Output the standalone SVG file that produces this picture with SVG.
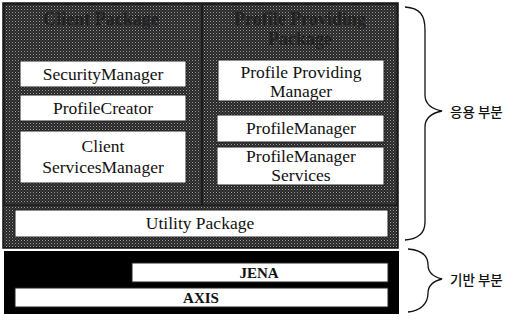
<svg xmlns="http://www.w3.org/2000/svg" width="518" height="320" viewBox="0 0 518 320">
<defs>
<pattern id="ht" width="3" height="3" patternUnits="userSpaceOnUse">
<rect width="3" height="3" fill="#262626"/>
<rect width="1" height="1" fill="#a0a0a0"/>
<rect x="1.5" y="1.5" width="1" height="1" fill="#707070"/>
</pattern>
<style>
.box{fill:#fff;stroke:#222;stroke-width:1}
.t{font-family:"Liberation Serif","DejaVu Serif",serif;font-size:17.5px;fill:#111;text-anchor:middle}
.b{font-family:"Liberation Serif","DejaVu Serif",serif;font-size:15px;font-weight:bold;fill:#111;text-anchor:middle}
.h{font-family:"Liberation Serif","DejaVu Serif",serif;font-size:18px;font-weight:bold;fill:#222;text-anchor:middle}
.k{font-family:"Noto Sans CJK KR",sans-serif;font-size:13.5px;font-weight:500;fill:#111}
.br{fill:none;stroke:#111;stroke-width:1.3}
</style>
</defs>
<g id="application-layer">
<rect x="3" y="3" width="395" height="245" fill="url(#ht)" stroke="#111" stroke-width="1.5"/>
</g>
<g id="client-package">
<rect x="4" y="4" width="198" height="201" fill="none" stroke="#1a1a1a" stroke-width="1.5"/>
<text class="h" x="101" y="25">Client Package</text>
</g>
<g id="profile-package">
<rect x="202" y="4" width="195" height="201" fill="none" stroke="#1a1a1a" stroke-width="1.5"/>
<text class="h" x="300" y="25">Profile Providing</text>
<text class="h" x="300" y="45">Package</text>
</g>
<g id="security-manager">
<rect class="box" x="20" y="61" width="166" height="26"/>
<text class="t" x="103" y="80">SecurityManager</text>
</g>
<g id="profile-creator">
<rect class="box" x="20" y="95" width="166" height="26"/>
<text class="t" x="103" y="114">ProfileCreator</text>
</g>
<g id="client-services-manager">
<rect class="box" x="20" y="131" width="166" height="52"/>
<text class="t" x="103" y="152">Client</text>
<text class="t" x="103" y="173">ServicesManager</text>
</g>
<g id="profile-providing-manager">
<rect class="box" x="218" y="60" width="166" height="41"/>
<text class="t" x="301" y="78">Profile Providing</text>
<text class="t" x="301" y="97">Manager</text>
</g>
<g id="profile-manager">
<rect class="box" x="217" y="115" width="167" height="27"/>
<text class="t" x="301" y="134">ProfileManager</text>
</g>
<g id="profile-manager-services">
<rect class="box" x="217" y="147" width="167" height="38"/>
<text class="t" x="301" y="162">ProfileManager</text>
<text class="t" x="301" y="181">Services</text>
</g>
<g id="utility-package">
<rect class="box" x="15" y="210" width="373" height="27"/>
<text class="t" x="200" y="229">Utility Package</text>
</g>
<g id="base-layer">
<rect x="4" y="251" width="395" height="63" fill="#000"/>
</g>
<g id="jena">
<rect class="box" x="132" y="263" width="256" height="19"/>
<text class="b" x="259" y="278">JENA</text>
</g>
<g id="axis">
<rect class="box" x="15" y="288" width="373" height="19"/>
<text class="b" x="201" y="303">AXIS</text>
</g>
<g id="connectors">
<path class="br" d="M405,7 C420,8 425,15 425,30 L425,95 C425,104 432,109 442,111 C432,113 425,118 425,127 L425,222 C425,234 418,239 405,240"/>
<path class="br" d="M408,249 C422,250 428,256 428,265 C428,273 434,277 442,279 C434,281 428,285 428,293 C428,304 420,311 408,312"/>
</g>
<g id="labels">
<text class="k" x="450" y="117">응용 부분</text>
<text class="k" x="450" y="285">기반 부분</text>
</g>
</svg>
